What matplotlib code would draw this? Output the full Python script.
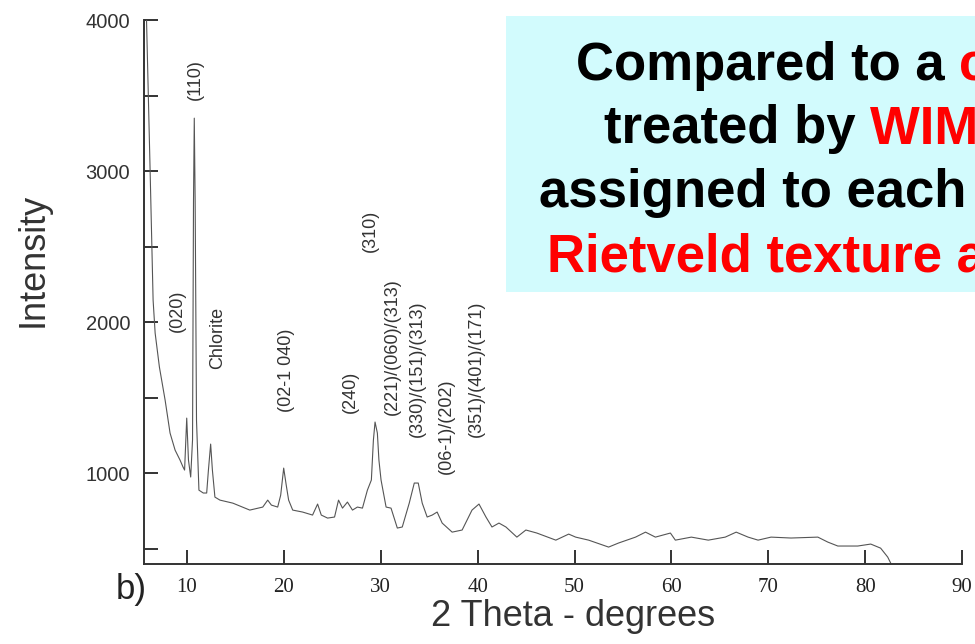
import matplotlib
matplotlib.use('Agg')
import matplotlib.pyplot as plt
from matplotlib.patches import Rectangle
from matplotlib.text import Annotation

plt.rcParams['font.family'] = ['Liberation Sans', 'DejaVu Sans']

# XRD pattern
two_theta = [5.82, 6.19, 6.50, 6.71, 7.15, 7.74, 8.25, 8.77, 9.28, 9.59, 9.75, 9.97, 10.15,
             10.38, 10.57, 10.67, 10.75, 10.84, 10.98, 11.23, 11.68, 12.03, 12.21, 12.44,
             12.62, 12.88, 13.40, 14.73, 16.48, 17.82, 18.33, 18.71, 19.36, 19.67, 19.98,
             20.24, 20.49, 20.91, 21.93, 22.96, 23.48, 23.86, 24.51, 25.23, 25.64, 26.05,
             26.56, 27.08, 27.59, 28.11, 28.62, 29.03, 29.24, 29.41, 29.65, 29.81, 30.03,
             30.55, 31.06, 31.71, 32.22, 32.94, 33.46, 33.87, 34.28, 34.79, 35.31, 35.82,
             36.34, 37.37, 38.40, 39.42, 40.14, 40.86, 41.48, 42.20, 42.92, 44.05, 44.98,
             46.11, 48.07, 49.40, 50.12, 51.46, 53.52, 54.55, 56.30, 57.33, 58.35, 59.90,
             60.41, 62.06, 63.81, 65.56, 66.69, 67.92, 68.95, 70.29, 72.35, 75.12, 76.15,
             77.18, 79.24, 80.58, 81.60, 82.33, 82.74]
intensity = [4000, 3006, 2145, 1927, 1702, 1483, 1265, 1152, 1086, 1040, 1020, 1364, 1086,
             974, 1220, 2800, 3350, 2800, 1350, 887, 868, 868, 1020, 1192,
             1020, 841, 821, 801, 755, 775, 821, 788, 775, 854, 1033,
             921, 821, 755, 742, 722, 795, 722, 702, 709, 821, 768,
             808, 755, 775, 768, 887, 954, 1218, 1338, 1265, 1086, 954,
             775, 768, 636, 643, 801, 934, 934, 801, 709, 722, 742,
             669, 609, 623, 755, 795, 709, 643, 669, 643, 576, 623,
             603, 556, 596, 576, 556, 510, 537, 576, 609, 576, 603,
             556, 576, 556, 576, 609, 576, 556, 576, 570, 576, 543,
             517, 517, 530, 503, 444, 391]

# peak labels (text, 2theta, intensity at label centre)
peak_labels = ['(110)', '(020)', 'Chlorite', '(02-1 040)', '(240)', '(310)',
               '(221)/(060)/(313)', '(330)/(151)/(313)', '(06-1)/(202)', '(351)/(401)/(171)']
label_x = [10.82, 8.97, 13.19, 20.29, 26.87, 28.93, 31.19, 33.77, 36.75, 39.84]
label_y = [3608, 2072, 1894, 1682, 1536, 2602, 1834, 1688, 1311, 1688]

W, H = 975, 644
fig = plt.figure(figsize=(W / 100, H / 100), dpi=100)
ax = fig.add_axes([144 / W, 1 - 564 / H, (962 - 144) / W, (564 - 20) / H])

ax.plot(two_theta, intensity, color='#555555', lw=0.8)
ax.set_xlim(5.56, 90)
ax.set_ylim(398, 4000)

for s in ['top', 'right']:
    ax.spines[s].set_visible(False)
for s in ['left', 'bottom']:
    ax.spines[s].set_color('#333333')
    ax.spines[s].set_linewidth(1.4)

ax.set_xticks(range(10, 91, 10))
ax.set_xticklabels([str(v) for v in range(10, 91, 10)], family='Liberation Serif',
                   fontsize=15, color='#222222')
ax.set_yticks(range(500, 4001, 500))
ax.set_yticklabels([str(v) if v % 1000 == 0 else '' for v in range(500, 4001, 500)],
                   fontsize=14.5, color='#333333')
ax.tick_params(axis='both', direction='in', length=10, width=1.4, color='#333333', pad=10)

for txt, x, y in zip(peak_labels, label_x, label_y):
    ax.text(x, y, txt, rotation=90, ha='center', va='center', fontsize=13, color='#333333')

fig.text(33 / W, 1 - 260 / H, 'Intensity', rotation=90, ha='center', va='center',
         fontsize=26, color='#333333')
fig.text(573 / W, 1 - 617 / H, '2 Theta - degrees', ha='center', va='center',
         fontsize=26, color='#333333')
fig.text(131 / W, 1 - 590 / H, 'b)', ha='center', va='center', fontsize=25, color='#222222')

# overlaid slide text box
fig.patches.append(Rectangle((506 / W, 1 - 292 / H), 0.6, (292 - 16) / H,
                             transform=fig.transFigure, facecolor='#d2fbfd',
                             edgecolor='none', zorder=5))

lines = [('Compared to a ', 'conventional', 576, 80),
         ('treated by ', 'WIMV, the', 604, 143),
         ('assigned to each reflection', '', 539, 207),
         ('', 'Rietveld texture analysis', 547, 272)]
for black, red, x0, base in lines:
    if not black:
        fig.text(x0 / W, 1 - base / H, red, ha='left', va='baseline', fontsize=38,
                 fontweight='bold', color='#ff0000', zorder=6)
        continue
    t1 = fig.text(x0 / W, 1 - base / H, black, ha='left', va='baseline', fontsize=38,
                  fontweight='bold', color='black', zorder=6)
    if red:
        fig.add_artist(Annotation(red, xy=(1, 0), xycoords=t1, ha='left', va='bottom',
                                  fontsize=38, fontweight='bold', color='#ff0000',
                                  zorder=6, family=['Liberation Sans', 'DejaVu Sans']))

fig.savefig('out.png', dpi=100)
